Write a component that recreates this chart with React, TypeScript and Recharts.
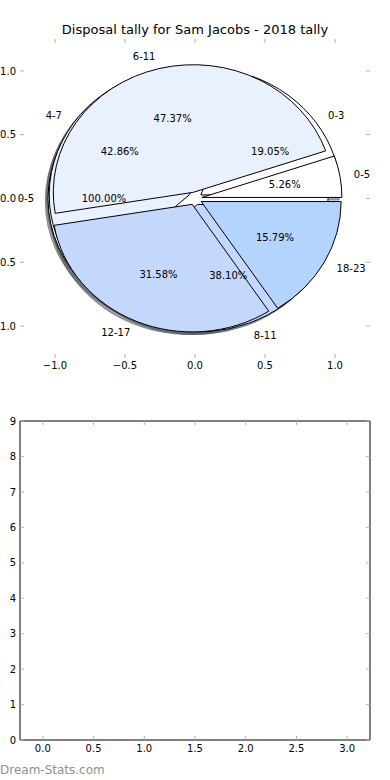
import React from 'react'
import { PieChart, Pie, ScatterChart, Scatter, XAxis, YAxis } from 'recharts'

// three pies laid over each other, the last one on top
const pie1Labels = ['0-5', '6-11', '12-17', '18-23']
const pie1Values = [1, 9, 6, 3]
const pie1Colors = ['#ffffff', '#e9f1fe', '#c4d8fe', '#b3d4ff']

const pie2Labels = ['0-3', '4-7', '8-11']
const pie2Values = [4, 9, 8]
const pie2Colors = ['#ffffff', '#e9f1fe', '#c4d8fe']

const pie3Labels = ['0-5']
const pie3Values = [1]
const pie3Colors = ['#ffffff']

const pieTicks = [-1, -0.5, 0, 0.5, 1]
const barXTicks = [0, 0.5, 1, 1.5, 2, 2.5, 3]
const barYTicks = [0, 1, 2, 3, 4, 5, 6, 7, 8, 9]
const noPoints: { x: number; y: number }[] = []

const FONT = '"DejaVu Sans", sans-serif'
const RAD = Math.PI / 180
const EXPLODE = 0.05
// pie axes are 350 x 319 px for -1.25..1.25 on both axes
const ASPECT = 319 / 350
const SHADOW_DX = -2.8
const SHADOW_DY = 2.6

const toRows = (labels: string[], values: number[], colors: string[]) =>
  labels.map((name, i) => ({ name, value: values[i], color: colors[i] }))

const shade = (hex: string) => {
  const n = parseInt(hex.slice(1), 16)
  const r = Math.round(((n >> 16) & 255) * 0.3)
  const g = Math.round(((n >> 8) & 255) * 0.3)
  const b = Math.round((n & 255) * 0.3)
  return `rgb(${r},${g},${b})`
}

function center(p: any) {
  const rx = p.outerRadius
  const ry = rx * ASPECT
  const mid = p.midAngle * RAD
  return {
    rx,
    ry,
    mid,
    x: p.cx + EXPLODE * rx * Math.cos(mid),
    y: p.cy - EXPLODE * ry * Math.sin(mid),
  }
}

function wedgePath(p: any, dx = 0, dy = 0) {
  const c = center(p)
  const ox = c.x + dx
  const oy = c.y + dy
  const { rx, ry } = c
  if (Math.abs(p.endAngle - p.startAngle) >= 359.999) {
    return `M${ox + rx},${oy} A${rx},${ry} 0 1 0 ${ox - rx},${oy} A${rx},${ry} 0 1 0 ${ox + rx},${oy} Z`
  }
  const s = p.startAngle * RAD
  const e = p.endAngle * RAD
  const x1 = ox + rx * Math.cos(s)
  const y1 = oy - ry * Math.sin(s)
  const x2 = ox + rx * Math.cos(e)
  const y2 = oy - ry * Math.sin(e)
  const large = p.endAngle - p.startAngle > 180 ? 1 : 0
  return `M${ox},${oy} L${x1},${y1} A${rx},${ry} 0 ${large} 0 ${x2},${y2} Z`
}

const colorOf = (p: any) => (p.payload && p.payload.color) || p.color || '#ffffff'

const renderShadow = (p: any) => {
  const c = shade(colorOf(p))
  return (
    <path
      d={wedgePath(p, SHADOW_DX, SHADOW_DY)}
      fill={c}
      fillOpacity={0.5}
      stroke={c}
      strokeOpacity={0.5}
      strokeWidth={1}
    />
  )
}

const renderWedge = (p: any) => (
  <path d={wedgePath(p)} fill={colorOf(p)} stroke="#000" strokeWidth={1} />
)

const renderText = (p: any) => {
  const c = center(p)
  const px = c.x + 0.6 * c.rx * Math.cos(c.mid)
  const py = c.y - 0.6 * c.ry * Math.sin(c.mid)
  const lx = c.x + 1.1 * c.rx * Math.cos(c.mid)
  const ly = c.y - 1.1 * c.ry * Math.sin(c.mid)
  const name = (p.payload && p.payload.name) || p.name
  return (
    <g>
      <text x={px} y={py + 3.5} textAnchor="middle" fontSize={10} fill="#000" fontFamily={FONT}>
        {(p.percent * 100).toFixed(2) + '%'}
      </text>
      <text
        x={lx}
        y={ly + 3.5}
        textAnchor={lx > p.cx ? 'start' : 'end'}
        fontSize={10}
        fill="#000"
        fontFamily={FONT}
      >
        {name}
      </text>
    </g>
  )
}

const pies = [
  toRows(pie3Labels, pie3Values, pie3Colors),
  toRows(pie2Labels, pie2Values, pie2Colors),
  toRows(pie1Labels, pie1Values, pie1Colors),
]

const TICK_COLOR = '#b0b0b0'

const fmtPie = (v: number) => (v < 0 ? '\u2212' : '') + Math.abs(v).toFixed(1)

const xTick = (axisY: number, dir: number, labelY: number | null, fmt: (v: number) => string) =>
  (props: any) => {
    const { x, payload } = props
    return (
      <g>
        <line x1={x} x2={x} y1={axisY} y2={axisY + dir * 4} stroke={TICK_COLOR} strokeWidth={1} />
        {labelY !== null && (
          <text x={x} y={labelY} textAnchor="middle" fontSize={10} fill="#000" fontFamily={FONT}>
            {fmt(payload.value)}
          </text>
        )}
      </g>
    )
  }

const yTick = (axisX: number, dir: number, labels: boolean, fmt: (v: number) => string) =>
  (props: any) => {
    const { y, payload } = props
    return (
      <g>
        <line x1={axisX} x2={axisX + dir * 4} y1={y} y2={y} stroke={TICK_COLOR} strokeWidth={1} />
        {labels && (
          <text x={16} y={y + 3.7} textAnchor="end" fontSize={10} fill="#000" fontFamily={FONT}>
            {fmt(payload.value)}
          </text>
        )}
      </g>
    )
  }

// plot box given as its edges in the chart's own coordinates
function Frame(props: {
  top: number
  box: { left: number; right: number; top: number; bottom: number }
  xDomain: [number, number]
  yDomain: [number, number]
  xTicks: number[]
  yTicks: number[]
  labelY: number
  fmtX: (v: number) => string
  fmtY: (v: number) => string
  line: boolean
}) {
  const { box, xDomain, yDomain, xTicks, yTicks } = props
  const H = 380
  const margin = { top: box.top - 1, left: box.left - 1, right: 390 - box.right - 1, bottom: H - box.bottom - 1 }
  const axisLine = props.line ? { stroke: '#000', strokeWidth: 1 } : false
  return (
    <div style={{ position: 'absolute', left: 0, top: props.top }}>
      <ScatterChart width={390} height={H} margin={margin}>
        <XAxis
          type="number"
          dataKey="x"
          domain={xDomain}
          allowDataOverflow
          ticks={xTicks}
          interval={0}
          height={1}
          axisLine={axisLine}
          tickLine={false}
          tick={xTick(box.bottom, -1, props.labelY, props.fmtX)}
        />
        <XAxis
          xAxisId="top"
          orientation="top"
          type="number"
          dataKey="x"
          domain={xDomain}
          allowDataOverflow
          ticks={xTicks}
          interval={0}
          height={1}
          axisLine={axisLine}
          tickLine={false}
          tick={xTick(box.top, 1, null, props.fmtX)}
        />
        <YAxis
          type="number"
          dataKey="y"
          domain={yDomain}
          allowDataOverflow
          ticks={yTicks}
          interval={0}
          width={1}
          axisLine={axisLine}
          tickLine={false}
          tick={yTick(box.left, 1, true, props.fmtY)}
        />
        <YAxis
          yAxisId="right"
          orientation="right"
          type="number"
          dataKey="y"
          domain={yDomain}
          allowDataOverflow
          ticks={yTicks}
          interval={0}
          width={1}
          axisLine={axisLine}
          tickLine={false}
          tick={yTick(box.right, -1, false, props.fmtY)}
        />
        <Scatter data={noPoints} dataKey="y" isAnimationActive={false} />
        <Scatter data={noPoints} dataKey="y" xAxisId="top" yAxisId="right" isAnimationActive={false} />
      </ScatterChart>
    </div>
  )
}

export default function App() {
  return (
    <div
      style={{
        position: 'absolute',
        left: 0,
        top: 0,
        width: 390,
        height: 780,
        background: '#fff',
        fontFamily: FONT,
      }}
    >
      <div
        style={{
          position: 'absolute',
          top: 22,
          left: 0,
          width: 390,
          textAlign: 'center',
          fontSize: 13,
          lineHeight: '15px',
          color: '#000',
        }}
      >
        Disposal tally for Sam Jacobs - 2018 tally
      </div>

      {/* ticks of the pie axes, no frame */}
      <Frame
        top={0}
        box={{ left: 20, right: 370, top: 39, bottom: 358 }}
        xDomain={[-1.25, 1.25]}
        yDomain={[-1.25, 1.25]}
        xTicks={pieTicks}
        yTicks={pieTicks}
        labelY={368.5}
        fmtX={fmtPie}
        fmtY={fmtPie}
        line={false}
      />

      <div style={{ position: 'absolute', left: 0, top: 0 }}>
        <PieChart width={390} height={380} margin={{ top: 0, right: 0, bottom: 0, left: 0 }}>
          {pies.map((rows, i) => (
            <Pie
              key={'s' + i}
              data={rows}
              dataKey="value"
              nameKey="name"
              cx={195}
              cy={198.5}
              outerRadius={140}
              startAngle={0}
              endAngle={360}
              fill="none"
              stroke="none"
              label={renderShadow}
              labelLine={false}
              isAnimationActive={false}
            />
          ))}
          {pies.map((rows, i) => (
            <Pie
              key={'w' + i}
              data={rows}
              dataKey="value"
              nameKey="name"
              cx={195}
              cy={198.5}
              outerRadius={140}
              startAngle={0}
              endAngle={360}
              fill="none"
              stroke="none"
              label={renderWedge}
              labelLine={false}
              isAnimationActive={false}
            />
          ))}
          {pies.map((rows, i) => (
            <Pie
              key={'t' + i}
              data={rows}
              dataKey="value"
              nameKey="name"
              cx={195}
              cy={198.5}
              outerRadius={140}
              startAngle={0}
              endAngle={360}
              fill="none"
              stroke="none"
              label={renderText}
              labelLine={false}
              isAnimationActive={false}
            />
          ))}
        </PieChart>
      </div>

      {/* empty lower axes */}
      <Frame
        top={400}
        box={{ left: 20, right: 370, top: 21, bottom: 340 }}
        xDomain={[-0.225, 3.225]}
        yDomain={[0, 9]}
        xTicks={barXTicks}
        yTicks={barYTicks}
        labelY={352}
        fmtX={(v) => v.toFixed(1)}
        fmtY={(v) => String(v)}
        line={true}
      />

      <div
        style={{
          position: 'absolute',
          left: 0,
          top: 763,
          fontSize: 12,
          lineHeight: '14px',
          color: '#909090',
        }}
      >
        Dream-Stats.com
      </div>
    </div>
  )
}
